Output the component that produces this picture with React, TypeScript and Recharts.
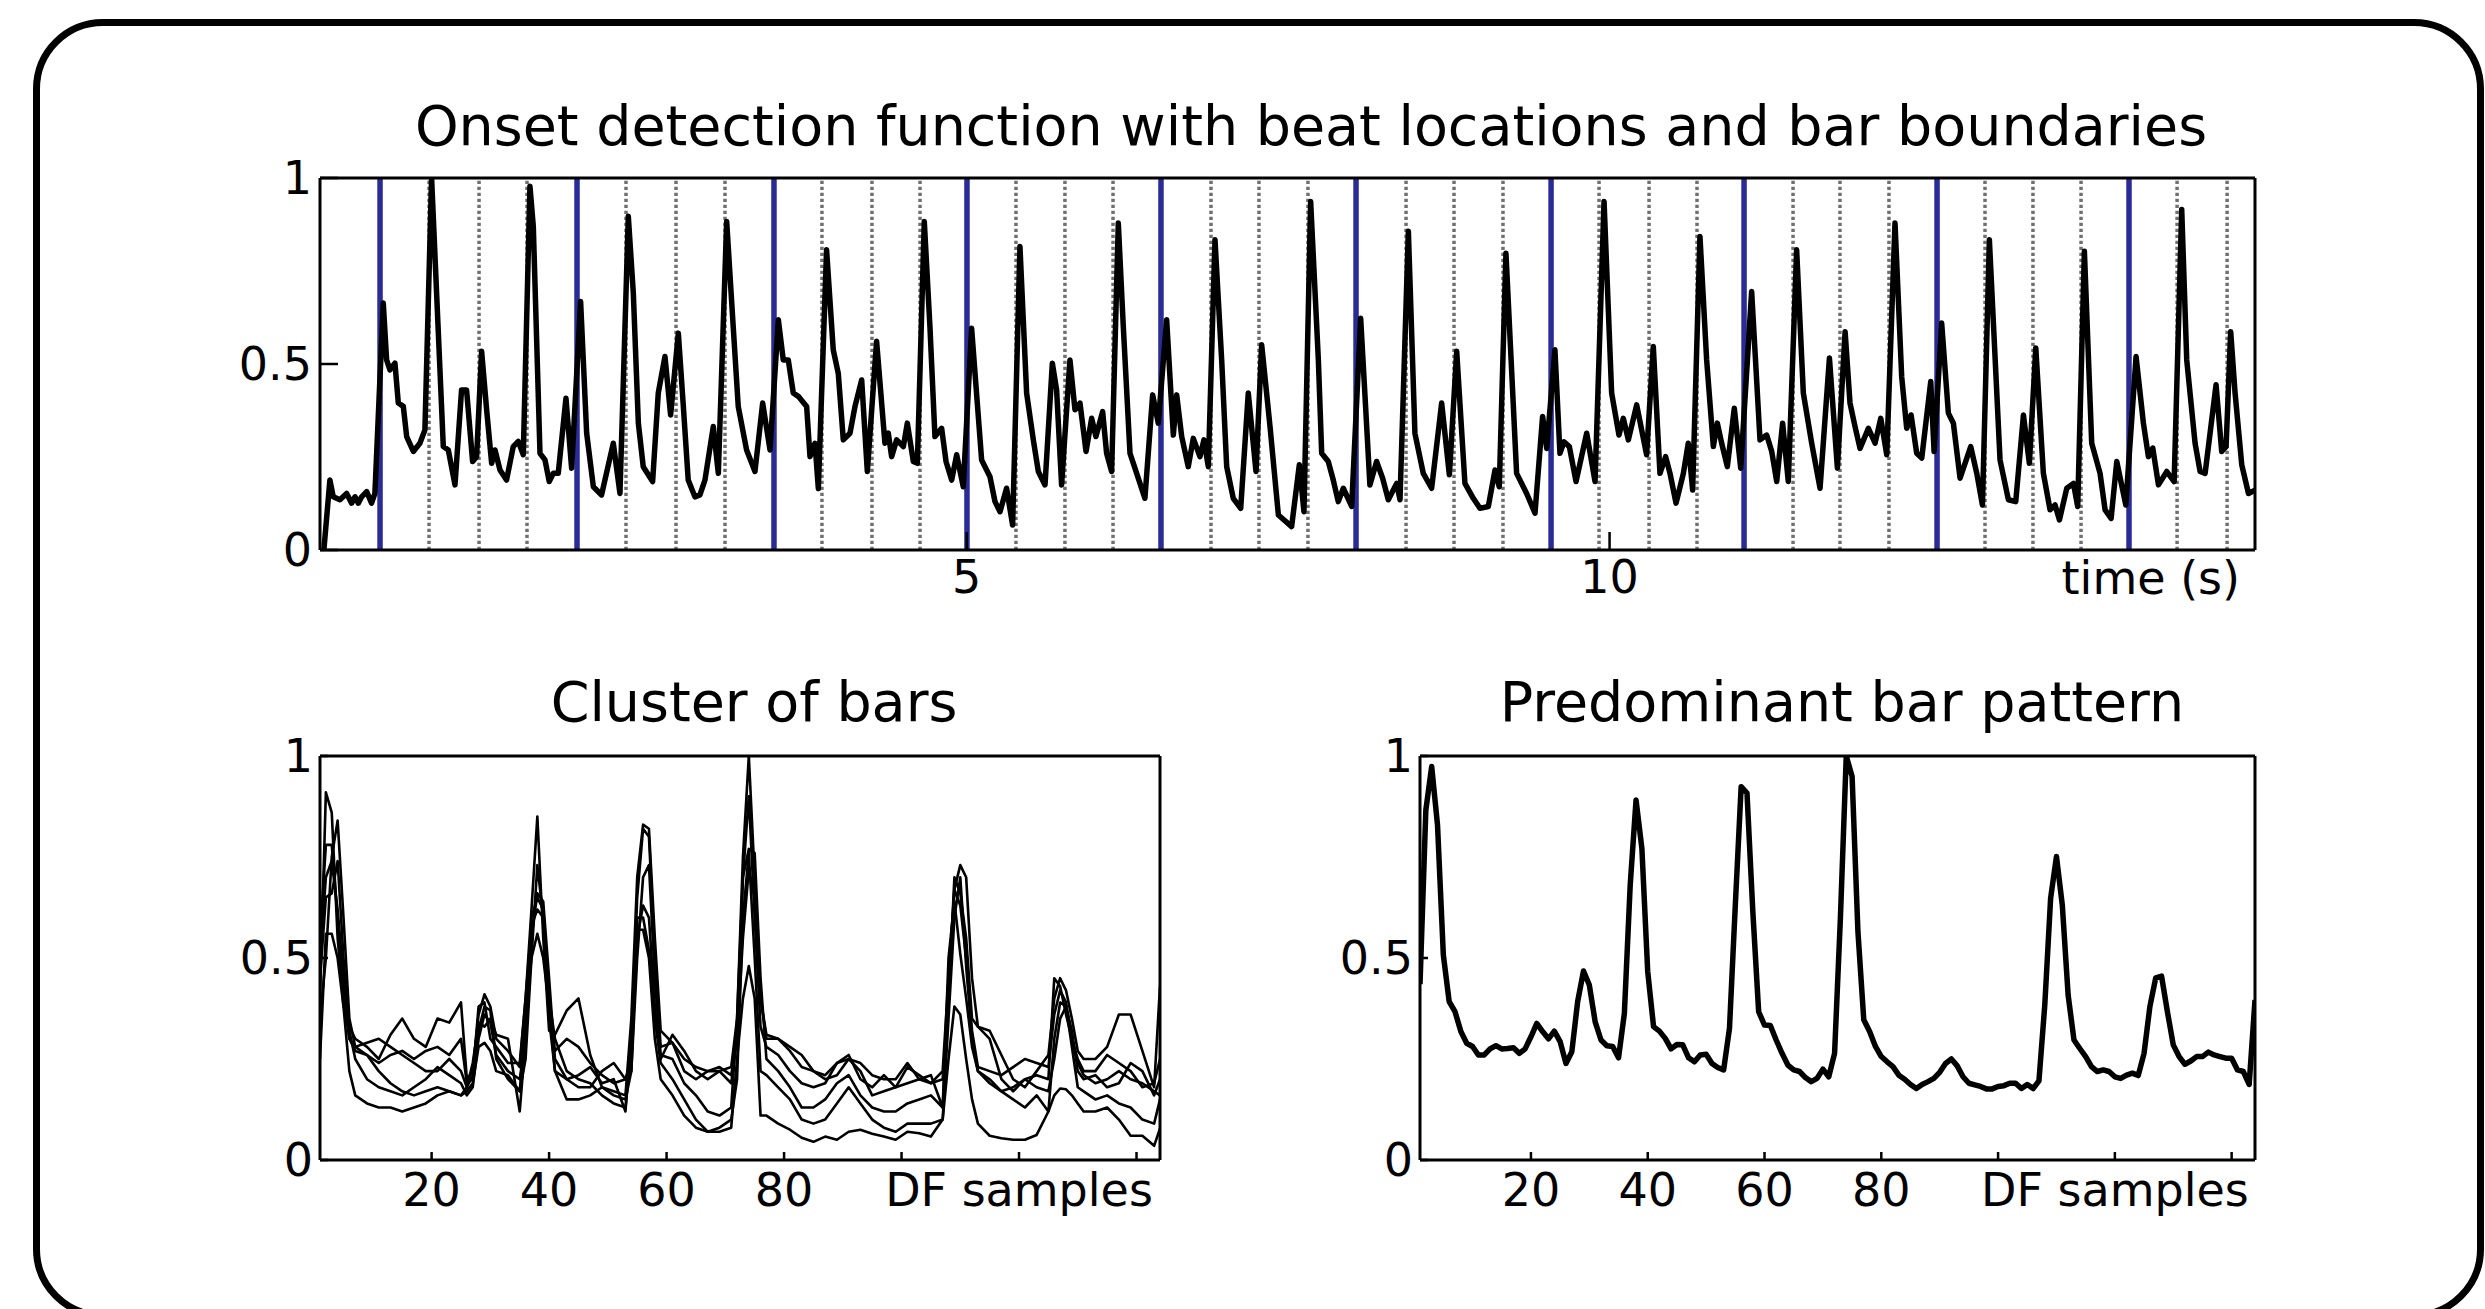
import React from 'react';
import { LineChart, Line, XAxis, YAxis, ReferenceLine } from 'recharts';

const FONT = "'DejaVu Sans', 'Bitstream Vera Sans', sans-serif";
const TICK_FONT = 46;
const TITLE_FONT = 55.5;

// Onset detection function: [time (s), value]
const onsetPoints: [number, number][] = [
  [0, 0], [0.047, 0.188], [0.073, 0.143], [0.125, 0.135], [0.177, 0.152], [0.216, 0.126], [0.242, 0.143], [0.268, 0.126], [0.294, 0.143], [0.333, 0.157],
  [0.371, 0.126], [0.397, 0.152], [0.462, 0.664], [0.488, 0.511], [0.514, 0.484], [0.553, 0.502], [0.579, 0.395], [0.618, 0.386], [0.644, 0.305], [0.696, 0.265],
  [0.747, 0.287], [0.786, 0.323], [0.838, 1.0], [0.877, 0.69], [0.929, 0.278], [0.968, 0.269], [1.02, 0.175], [1.071, 0.43], [1.11, 0.43], [1.157, 0.238],
  [1.188, 0.251], [1.227, 0.534], [1.266, 0.377], [1.305, 0.233], [1.331, 0.269], [1.37, 0.215], [1.421, 0.188], [1.473, 0.278], [1.512, 0.292], [1.551, 0.256],
  [1.603, 0.978], [1.629, 0.87], [1.681, 0.26], [1.72, 0.242], [1.753, 0.184], [1.784, 0.206], [1.823, 0.206], [1.883, 0.408], [1.927, 0.22], [1.997, 0.668],
  [2.044, 0.314], [2.096, 0.17], [2.16, 0.148], [2.251, 0.287], [2.303, 0.152], [2.368, 0.897], [2.407, 0.69], [2.446, 0.341], [2.484, 0.224], [2.557, 0.184],
  [2.601, 0.422], [2.653, 0.52], [2.697, 0.363], [2.757, 0.583], [2.796, 0.386], [2.834, 0.188], [2.886, 0.143], [2.925, 0.148], [2.964, 0.188], [3.029, 0.332],
  [3.068, 0.206], [3.133, 0.883], [3.184, 0.6], [3.223, 0.386], [3.288, 0.269], [3.353, 0.211], [3.413, 0.395], [3.47, 0.269], [3.535, 0.619], [3.573, 0.511],
  [3.612, 0.511], [3.651, 0.422], [3.69, 0.413], [3.755, 0.386], [3.781, 0.251], [3.82, 0.287], [3.846, 0.165],
  [3.91, 0.807], [3.962, 0.538], [4.001, 0.475], [4.04, 0.296], [4.092, 0.314], [4.131, 0.386], [4.183, 0.457], [4.227, 0.211], [4.299, 0.561], [4.364, 0.287],
  [4.39, 0.314], [4.416, 0.251], [4.455, 0.296], [4.507, 0.278], [4.538, 0.341], [4.585, 0.238], [4.616, 0.233], [4.67, 0.883], [4.714, 0.6], [4.753, 0.305],
  [4.805, 0.327], [4.839, 0.238], [4.883, 0.188], [4.922, 0.256], [4.973, 0.17], [5.038, 0.596], [5.116, 0.242], [5.181, 0.197], [5.22, 0.13], [5.259, 0.103],
  [5.31, 0.166], [5.357, 0.067], [5.414, 0.816], [5.466, 0.422], [5.518, 0.296], [5.557, 0.211], [5.609, 0.175], [5.666, 0.502], [5.699, 0.431], [5.738, 0.175],
  [5.803, 0.511], [5.842, 0.377], [5.881, 0.395], [5.928, 0.265], [5.972, 0.354], [6.005, 0.305], [6.057, 0.372], [6.088, 0.26], [6.127, 0.211], [6.179, 0.879],
  [6.218, 0.6], [6.27, 0.26], [6.322, 0.206], [6.386, 0.139], [6.446, 0.417], [6.49, 0.341], [6.555, 0.619], [6.607, 0.309], [6.633, 0.417], [6.672, 0.305],
  [6.723, 0.224], [6.762, 0.3], [6.814, 0.251], [6.845, 0.296], [6.879, 0.224], [6.931, 0.834], [6.983, 0.511], [7.022, 0.224], [7.073, 0.139], [7.131, 0.112],
  [7.19, 0.422], [7.25, 0.211], [7.294, 0.552], [7.359, 0.332], [7.424, 0.094], [7.527, 0.063], [7.587, 0.229], [7.623, 0.103], [7.675, 0.937],
  [7.735, 0.511], [7.761, 0.26], [7.812, 0.238], [7.851, 0.188], [7.89, 0.13], [7.929, 0.166], [7.994, 0.117], [8.064, 0.623], [8.098, 0.413], [8.136, 0.175],
  [8.188, 0.238], [8.235, 0.193], [8.279, 0.135], [8.344, 0.179], [8.37, 0.135], [8.435, 0.857], [8.486, 0.314], [8.551, 0.206], [8.616, 0.166], [8.694, 0.395],
  [8.754, 0.202], [8.811, 0.534], [8.875, 0.179], [8.94, 0.139], [8.992, 0.112], [9.057, 0.117], [9.109, 0.215], [9.142, 0.17], [9.194, 0.798], [9.277, 0.206],
  [9.355, 0.152], [9.42, 0.099], [9.479, 0.359], [9.511, 0.273], [9.575, 0.538], [9.614, 0.26], [9.645, 0.291], [9.687, 0.278], [9.739, 0.184], [9.822, 0.314],
  [9.887, 0.184], [9.957, 0.937], [10.016, 0.422], [10.073, 0.309], [10.107, 0.354], [10.146, 0.296], [10.211, 0.39], [10.288, 0.256], [10.34, 0.547], [10.392, 0.206],
  [10.436, 0.251], [10.47, 0.206], [10.517, 0.126], [10.574, 0.206], [10.612, 0.287], [10.646, 0.161], [10.703, 0.843], [10.755, 0.511], [10.807, 0.278], [10.838, 0.341],
  [10.872, 0.287], [10.916, 0.224], [10.97, 0.381], [11.02, 0.22], [11.105, 0.695], [11.17, 0.296], [11.222, 0.309], [11.261, 0.265], [11.3, 0.184], [11.346, 0.341],
  [11.39, 0.184], [11.455, 0.807], [11.507, 0.422], [11.572, 0.287],
  [11.637, 0.166], [11.71, 0.516], [11.772, 0.22], [11.832, 0.587], [11.87, 0.395], [11.909, 0.332], [11.948, 0.273], [12.013, 0.327], [12.065, 0.287], [12.109, 0.354],
  [12.156, 0.256], [12.22, 0.879], [12.272, 0.466], [12.311, 0.327], [12.345, 0.363], [12.389, 0.26], [12.428, 0.247], [12.498, 0.453], [12.524, 0.265], [12.583, 0.61],
  [12.635, 0.368], [12.674, 0.341], [12.726, 0.193], [12.809, 0.278], [12.856, 0.206], [12.9, 0.121], [12.954, 0.834], [13.037, 0.242], [13.102, 0.135], [13.159, 0.13],
  [13.219, 0.363], [13.265, 0.233], [13.315, 0.543], [13.374, 0.206], [13.426, 0.108], [13.465, 0.121], [13.499, 0.081], [13.556, 0.166], [13.608, 0.179], [13.641, 0.117],
  [13.693, 0.803], [13.75, 0.287], [13.815, 0.206], [13.854, 0.108], [13.901, 0.085], [13.945, 0.238], [14.015, 0.121], [14.095, 0.52], [14.152, 0.341], [14.191, 0.251],
  [14.225, 0.274], [14.269, 0.175], [14.334, 0.211], [14.391, 0.184], [14.45, 0.915], [14.489, 0.511], [14.554, 0.287], [14.593, 0.211], [14.632, 0.206], [14.717, 0.444],
  [14.761, 0.265], [14.795, 0.278], [14.831, 0.587], [14.865, 0.422], [14.917, 0.229], [14.969, 0.152], [15.02, 0.161],
];

const barBoundaries = [0.437, 1.969, 3.501, 5.002, 6.511, 8.028, 9.545, 11.046, 12.547, 14.04];
const beatLocations = [
  0.818, 1.207, 1.58, 2.35, 2.739, 3.12, 3.874, 4.263, 4.637, 5.383, 5.764, 6.138, 6.9, 7.273, 7.654,
  8.417, 8.79, 9.171, 9.918, 10.307, 10.68, 11.427, 11.792, 12.173, 12.92, 13.293, 13.667, 14.414, 14.803,
];

const timeTicks = [5, 10];
const valueTicks = [0, 0.5, 1];
const valueTickLabels = ['0', '0.5', '1'];
const sampleTicks = [20, 40, 60, 80, 100, 120, 140];
const sampleTickLabels = ['20', '40', '60', '80', '', 'DF samples', ''];

const clusterSamples = [
  1, 2, 3, 4, 5, 6, 7, 9, 11, 13, 15, 17, 19, 21, 23, 25, 26, 27, 28, 29, 30, 31, 33, 35,
  36, 37, 38, 39, 40, 41, 43, 45, 47, 49, 51, 53, 54, 55, 56, 57, 58, 59, 61, 63, 65, 67, 69, 71,
  72, 73, 74, 75, 76, 77, 79, 81, 83, 85, 87, 89, 91, 93, 95, 97, 99, 101, 103, 105,
  107, 108, 109, 110, 111, 112, 113, 115, 117, 119, 121, 123, 125, 126, 127, 128, 129, 130, 131,
  133, 135, 137, 139, 141, 143, 144,
];

const clusterBar1 = [
  0.40, 0.91, 0.86, 0.55, 0.38, 0.33, 0.30, 0.28, 0.25, 0.31, 0.35, 0.30, 0.28, 0.35, 0.34, 0.39, 0.20, 0.22, 0.36, 0.41, 0.38, 0.30, 0.27, 0.23,
  0.40, 0.62, 0.85, 0.55, 0.32, 0.31, 0.37, 0.40, 0.26, 0.18, 0.17, 0.16, 0.35, 0.70, 0.83, 0.82, 0.55, 0.32, 0.29, 0.25, 0.23, 0.22, 0.22, 0.23,
  0.35, 0.75, 1.0, 0.70, 0.40, 0.31, 0.30, 0.28, 0.26, 0.22, 0.20, 0.21, 0.25, 0.24, 0.21, 0.20, 0.20, 0.24, 0.20, 0.19,
  0.22, 0.45, 0.67, 0.73, 0.70, 0.45, 0.33, 0.32, 0.26, 0.20, 0.18, 0.22, 0.26, 0.40, 0.45, 0.42, 0.35, 0.27, 0.25,
  0.25, 0.28, 0.36, 0.36, 0.27, 0.18, 0.43,
];
const clusterBar2 = [
  0.55, 0.78, 0.78, 0.60, 0.40, 0.30, 0.27, 0.26, 0.24, 0.26, 0.27, 0.25, 0.27, 0.28, 0.26, 0.30, 0.19, 0.20, 0.32, 0.38, 0.37, 0.25, 0.20, 0.17,
  0.25, 0.50, 0.73, 0.60, 0.35, 0.22, 0.20, 0.21, 0.23, 0.19, 0.20, 0.12, 0.30, 0.65, 0.82, 0.80, 0.50, 0.28, 0.29, 0.22, 0.20, 0.22, 0.23, 0.21,
  0.30, 0.70, 0.90, 0.60, 0.33, 0.28, 0.26, 0.22, 0.19, 0.18, 0.19, 0.24, 0.25, 0.22, 0.16, 0.17, 0.18, 0.19, 0.20, 0.21,
  0.13, 0.40, 0.67, 0.63, 0.50, 0.32, 0.23, 0.22, 0.21, 0.23, 0.25, 0.24, 0.23, 0.36, 0.42, 0.39, 0.30, 0.24, 0.21,
  0.19, 0.20, 0.22, 0.20, 0.19, 0.17, 0.16,
];
const clusterBar3 = [
  0.45, 0.65, 0.66, 0.74, 0.50, 0.32, 0.25, 0.20, 0.18, 0.17, 0.16, 0.18, 0.20, 0.23, 0.21, 0.19, 0.16, 0.18, 0.30, 0.36, 0.34, 0.26, 0.22, 0.20,
  0.30, 0.55, 0.66, 0.64, 0.45, 0.25, 0.20, 0.18, 0.18, 0.22, 0.24, 0.20, 0.22, 0.50, 0.70, 0.73, 0.45, 0.26, 0.25, 0.19, 0.16, 0.12, 0.11, 0.13,
  0.35, 0.70, 0.77, 0.76, 0.45, 0.25, 0.22, 0.18, 0.13, 0.13, 0.15, 0.19, 0.21, 0.16, 0.13, 0.12, 0.12, 0.14, 0.15, 0.16,
  0.13, 0.50, 0.64, 0.51, 0.40, 0.28, 0.22, 0.20, 0.17, 0.18, 0.20, 0.18, 0.17, 0.25, 0.35, 0.38, 0.32, 0.22, 0.20,
  0.21, 0.18, 0.19, 0.24, 0.22, 0.16, 0.20,
];
const clusterBar4 = [
  0.25, 0.56, 0.56, 0.50, 0.38, 0.22, 0.16, 0.14, 0.13, 0.13, 0.12, 0.13, 0.14, 0.16, 0.17, 0.16, 0.17, 0.19, 0.28, 0.29, 0.27, 0.22, 0.21, 0.17,
  0.35, 0.50, 0.56, 0.50, 0.38, 0.22, 0.15, 0.15, 0.16, 0.18, 0.16, 0.15, 0.22, 0.57, 0.57, 0.50, 0.30, 0.20, 0.16, 0.11, 0.08, 0.07, 0.07, 0.08,
  0.25, 0.40, 0.48, 0.40, 0.11, 0.11, 0.09, 0.075, 0.055, 0.045, 0.058, 0.05, 0.07, 0.075, 0.065, 0.058, 0.05, 0.07, 0.066, 0.058,
  0.10, 0.25, 0.38, 0.36, 0.25, 0.15, 0.09, 0.06, 0.054, 0.05, 0.05, 0.062, 0.12, 0.16, 0.177, 0.175, 0.16, 0.14, 0.12,
  0.12, 0.13, 0.10, 0.06, 0.06, 0.035, 0.078,
];
const clusterBar5 = [
  0.35, 0.50, 0.75, 0.84, 0.60, 0.35, 0.28, 0.26, 0.22, 0.19, 0.17, 0.16, 0.17, 0.18, 0.17, 0.16, 0.18, 0.24, 0.34, 0.33, 0.35, 0.31, 0.30, 0.12,
  0.30, 0.60, 0.65, 0.62, 0.40, 0.30, 0.22, 0.20, 0.19, 0.16, 0.14, 0.13, 0.28, 0.60, 0.60, 0.52, 0.35, 0.24, 0.20, 0.15, 0.10, 0.07, 0.08, 0.10,
  0.20, 0.60, 0.76, 0.50, 0.22, 0.21, 0.18, 0.15, 0.10, 0.09, 0.10, 0.14, 0.18, 0.14, 0.10, 0.08, 0.07, 0.09, 0.09, 0.09,
  0.10, 0.35, 0.60, 0.70, 0.48, 0.30, 0.22, 0.19, 0.17, 0.15, 0.13, 0.16, 0.12, 0.30, 0.39, 0.38, 0.28, 0.18, 0.17,
  0.15, 0.16, 0.14, 0.13, 0.10, 0.09, 0.15,
];
const clusterBar6 = [
  0.50, 0.70, 0.74, 0.62, 0.45, 0.30, 0.28, 0.29, 0.30, 0.28, 0.26, 0.24, 0.22, 0.22, 0.25, 0.22, 0.18, 0.21, 0.38, 0.39, 0.30, 0.28, 0.24, 0.24,
  0.40, 0.58, 0.62, 0.60, 0.38, 0.27, 0.30, 0.28, 0.24, 0.21, 0.19, 0.20, 0.25, 0.55, 0.63, 0.60, 0.38, 0.25, 0.31, 0.27, 0.22, 0.20, 0.22, 0.19,
  0.30, 0.55, 0.72, 0.65, 0.40, 0.30, 0.30, 0.27, 0.23, 0.22, 0.21, 0.24, 0.26, 0.20, 0.18, 0.21, 0.18, 0.23, 0.21, 0.19,
  0.20, 0.40, 0.70, 0.66, 0.55, 0.35, 0.33, 0.30, 0.20, 0.17, 0.20, 0.21, 0.20, 0.45, 0.43, 0.36, 0.30, 0.25, 0.22,
  0.22, 0.26, 0.24, 0.22, 0.18, 0.19, 0.25,
];

// Predominant bar pattern, DF samples 1..144
const patternValues = [
  0.435, 0.866, 0.974, 0.829, 0.507, 0.392, 0.367, 0.318, 0.289, 0.281, 0.26, 0.26, 0.275, 0.283, 0.275, 0.276, 0.278, 0.264, 0.275, 0.305,
  0.338, 0.318, 0.3, 0.319, 0.293, 0.239, 0.268, 0.392, 0.468, 0.433, 0.342, 0.297, 0.283, 0.281, 0.253, 0.363, 0.681, 0.891, 0.771, 0.466,
  0.33, 0.319, 0.301, 0.275, 0.286, 0.285, 0.253, 0.243, 0.26, 0.262, 0.239, 0.229, 0.223, 0.326, 0.631, 0.924, 0.908, 0.615, 0.367, 0.334,
  0.333, 0.297, 0.264, 0.235, 0.223, 0.219, 0.204, 0.194, 0.202, 0.225, 0.206, 0.264, 0.6, 1.0, 0.949, 0.565, 0.347, 0.318, 0.281, 0.256,
  0.243, 0.231, 0.21, 0.2, 0.187, 0.177, 0.187, 0.194, 0.202, 0.217, 0.239, 0.25, 0.233, 0.206, 0.19, 0.186, 0.182, 0.176, 0.176, 0.182,
  0.184, 0.19, 0.19, 0.177, 0.187, 0.177, 0.196, 0.384, 0.648, 0.751, 0.631, 0.408, 0.297, 0.276, 0.256, 0.231, 0.219, 0.223, 0.219, 0.206,
  0.202, 0.21, 0.215, 0.209, 0.264, 0.38, 0.451, 0.455, 0.367, 0.285, 0.256, 0.237, 0.245, 0.256, 0.256, 0.267, 0.26, 0.256, 0.252, 0.252,
  0.223, 0.219, 0.187, 0.396,
];

const onsetData = onsetPoints.map(([t, v]) => ({ t, v }));
const clusterSeries = [clusterBar1, clusterBar2, clusterBar3, clusterBar4, clusterBar5, clusterBar6];
const clusterData = clusterSamples.map((s, i) => {
  const row: Record<string, number> = { s };
  clusterSeries.forEach((arr, k) => {
    row['b' + k] = arr[i];
  });
  return row;
});
const patternData = patternValues.map((v, i) => ({ s: i + 1, v }));

const tickStyle = { fontSize: TICK_FONT, fill: '#000', fontFamily: FONT };
const axisLineStyle = { stroke: '#000', strokeWidth: 3 };
const tickLineStyle = { stroke: '#000', strokeWidth: 2.5 };

const valueFmt = (v: number) => {
  const i = valueTicks.indexOf(v);
  return i >= 0 ? valueTickLabels[i] : String(v);
};
const sampleFmt = (v: number) => {
  const i = sampleTicks.indexOf(v);
  return i >= 0 ? sampleTickLabels[i] : '';
};
const timeFmt = (v: number) => String(v);

function boxAxes(opts: {
  dataKey: string;
  domain: [number, number];
  xTicks: number[];
  xFmt: (v: number) => string;
  tickLen: number;
  xMargin: number;
  yMargin: number;
}) {
  const { dataKey, domain, xTicks, xFmt, tickLen, xMargin, yMargin } = opts;
  return [
    <XAxis
      key="xb"
      xAxisId="b"
      dataKey={dataKey}
      type="number"
      domain={domain}
      allowDataOverflow
      ticks={xTicks}
      interval={0}
      height={60}
      tickSize={-tickLen}
      tickMargin={xMargin}
      axisLine={axisLineStyle}
      tickLine={tickLineStyle}
      tick={tickStyle}
      tickFormatter={xFmt}
    />,
    <XAxis
      key="xt"
      xAxisId="t"
      orientation="top"
      dataKey={dataKey}
      type="number"
      domain={domain}
      allowDataOverflow
      ticks={xTicks}
      interval={0}
      height={1}
      tickSize={-tickLen}
      axisLine={axisLineStyle}
      tickLine={tickLineStyle}
      tick={false}
    />,
    <YAxis
      key="yl"
      yAxisId="l"
      type="number"
      domain={[0, 1]}
      allowDataOverflow
      ticks={valueTicks}
      interval={0}
      width={100}
      tickSize={-tickLen}
      tickMargin={yMargin}
      axisLine={axisLineStyle}
      tickLine={tickLineStyle}
      tick={tickStyle}
      tickFormatter={valueFmt}
    />,
    <YAxis
      key="yr"
      yAxisId="r"
      orientation="right"
      type="number"
      domain={[0, 1]}
      allowDataOverflow
      ticks={valueTicks}
      interval={0}
      width={1}
      tickSize={-tickLen}
      axisLine={axisLineStyle}
      tickLine={tickLineStyle}
      tick={false}
    />,
  ];
}

function OnsetChart() {
  return (
    <LineChart width={2485} height={640} data={onsetData} margin={{ top: 177, right: 229, bottom: 30, left: 220 }}>
      {boxAxes({ dataKey: 't', domain: [-0.03, 15.02], xTicks: timeTicks, xFmt: timeFmt, tickLen: 18, xMargin: 28, yMargin: 26 })}
      {beatLocations.map((t) => (
        <ReferenceLine key={'beat' + t} x={t} xAxisId="b" yAxisId="l" stroke="#707070" strokeWidth={3.5} strokeDasharray="3.2 2.8" />
      ))}
      {barBoundaries.map((t) => (
        <ReferenceLine key={'bar' + t} x={t} xAxisId="b" yAxisId="l" stroke="#2b2b96" strokeWidth={5.5} />
      ))}
      <Line
        xAxisId="b"
        yAxisId="l"
        dataKey="v"
        stroke="#000"
        strokeWidth={5.5}
        strokeLinejoin="round"
        dot={false}
        activeDot={false}
        isAnimationActive={false}
      />
    </LineChart>
  );
}

function ClusterChart() {
  return (
    <LineChart width={1200} height={600} data={clusterData} margin={{ top: 105, right: 39, bottom: 30, left: 220 }}>
      {boxAxes({ dataKey: 's', domain: [1, 144], xTicks: sampleTicks, xFmt: sampleFmt, tickLen: 8, xMargin: 21, yMargin: 15 })}
      {clusterSeries.map((_, k) => (
        <Line
          key={'b' + k}
          xAxisId="b"
          yAxisId="l"
          dataKey={'b' + k}
          stroke="#000"
          strokeWidth={2.6}
          strokeLinejoin="round"
          dot={false}
          activeDot={false}
          isAnimationActive={false}
        />
      ))}
    </LineChart>
  );
}

function PatternChart() {
  return (
    <LineChart width={1185} height={600} data={patternData} margin={{ top: 105, right: 229, bottom: 30, left: 20 }}>
      {boxAxes({ dataKey: 's', domain: [1, 144], xTicks: sampleTicks, xFmt: sampleFmt, tickLen: 8, xMargin: 21, yMargin: 15 })}
      <Line
        xAxisId="b"
        yAxisId="l"
        dataKey="v"
        stroke="#000"
        strokeWidth={5.5}
        strokeLinejoin="round"
        dot={false}
        activeDot={false}
        isAnimationActive={false}
      />
    </LineChart>
  );
}

export default function App() {
  return (
    <div
      style={{
        position: 'absolute',
        left: 0,
        top: 0,
        width: 2485,
        height: 1309,
        overflow: 'hidden',
        background: '#fff',
        fontFamily: FONT,
      }}
    >
      <div
        style={{
          position: 'absolute',
          left: 33,
          top: 19,
          width: 2451,
          height: 1300,
          boxSizing: 'border-box',
          border: '7px solid #000',
          borderRadius: 70,
        }}
      />
      <div style={{ position: 'absolute', left: 0, top: 0 }}>
        <OnsetChart />
      </div>
      <div style={{ position: 'absolute', left: 0, top: 650 }}>
        <ClusterChart />
      </div>
      <div style={{ position: 'absolute', left: 1300, top: 650 }}>
        <PatternChart />
      </div>
      <svg
        width={2485}
        height={1309}
        style={{ position: 'absolute', left: 0, top: 0, pointerEvents: 'none' }}
      >
        <text x={1311} y={145} textAnchor="middle" fontSize={TITLE_FONT} fontFamily={FONT} fill="#000">
          Onset detection function with beat locations and bar boundaries
        </text>
        <text x={2240} y={594} textAnchor="end" fontSize={TICK_FONT} fontFamily={FONT} fill="#000">
          time (s)
        </text>
        <text x={754} y={721} textAnchor="middle" fontSize={TITLE_FONT} fontFamily={FONT} fill="#000">
          Cluster of bars
        </text>
        <text x={1842} y={721} textAnchor="middle" fontSize={TITLE_FONT} fontFamily={FONT} fill="#000">
          Predominant bar pattern
        </text>
      </svg>
    </div>
  );
}
